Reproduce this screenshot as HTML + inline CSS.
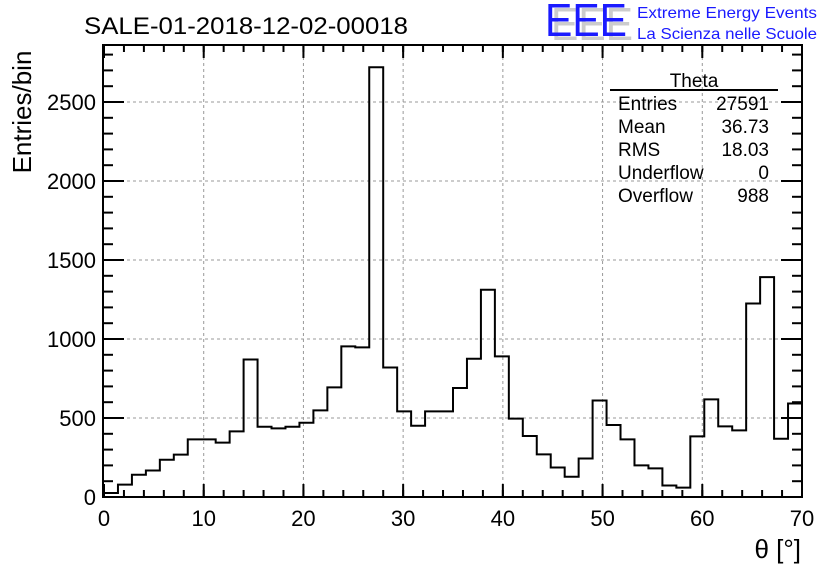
<!DOCTYPE html>
<html><head><meta charset="utf-8"><style>
body{margin:0;background:#fff;}
svg{display:block;font-family:"Liberation Sans",sans-serif;}
</style></head><body>
<svg id="chart" width="836" height="572" viewBox="0 0 836 572">
<text x="84" y="34" font-size="24" textLength="324" lengthAdjust="spacingAndGlyphs">SALE-01-2018-12-02-00018</text>
<g>
<text x="551" y="40" font-size="46" fill="#ccc" textLength="82" lengthAdjust="spacingAndGlyphs">EEE</text>
<text x="545" y="36" font-size="46" fill="#1a1aff" textLength="82" lengthAdjust="spacingAndGlyphs">EEE</text>
<text x="637" y="18" font-size="16" fill="#1a1aff" textLength="180" lengthAdjust="spacingAndGlyphs">Extreme Energy Events</text>
<text x="637" y="39" font-size="16" fill="#1a1aff" textLength="180" lengthAdjust="spacingAndGlyphs">La Scienza nelle Scuole</text>
</g>
<g id="grid"></g>
<g id="axes"></g>
<path id="hist" fill="none" stroke="#000" stroke-width="2"/>
<rect x="103" y="45" width="699" height="452" fill="none" stroke="#000" stroke-width="2"/>
<g font-size="19">
<text x="694" y="87" text-anchor="middle">Theta</text>
<line x1="610" y1="90" x2="778" y2="90" stroke="#000" stroke-width="2"/>
<text x="618" y="110">Entries</text><text x="769" y="110" text-anchor="end">27591</text>
<text x="618" y="133">Mean</text><text x="769" y="133" text-anchor="end">36.73</text>
<text x="618" y="156">RMS</text><text x="769" y="156" text-anchor="end">18.03</text>
<text x="618" y="179">Underflow</text><text x="769" y="179" text-anchor="end">0</text>
<text x="618" y="202">Overflow</text><text x="769" y="202" text-anchor="end">988</text>
</g>
<text x="801" y="558" font-size="26" text-anchor="end">θ [°]</text>
<text transform="translate(31,112) rotate(-90)" font-size="26" text-anchor="middle">Entries/bin</text>
</svg>
<script>
const binCounts=[25,78,141,168,236,268,365,365,344,415,870,445,434,445,470,548,694,953,947,2720,820,542,451,542,542,690,875,1312,890,496,386,270,187,128,244,611,456,365,200,181,73,59,384,618,447,422,1225,1392,369,592];
const xTicks=[0,10,20,30,40,50,60,70];
const yTicks=[0,500,1000,1500,2000,2500];
const binWidth=1.4;
const X=v=>104+v*(698/70);
const Y=v=>497-v*0.158;
const ns="http://www.w3.org/2000/svg";
const svg=document.getElementById('chart');
const grid=document.getElementById('grid'),axes=document.getElementById('axes');
function mk(tag,attrs,parent){const e=document.createElementNS(ns,tag);for(const k in attrs)e.setAttribute(k,attrs[k]);parent.appendChild(e);return e;}
xTicks.forEach(t=>{
 if(t>0&&t<70){const g=mk('line',{x1:X(t),x2:X(t),y1:45,y2:497,stroke:'#999','stroke-dasharray':'3,3'},grid);
 
 }
 const l=mk('text',{x:X(t),y:526,'font-size':22,'text-anchor':'middle'},axes);l.textContent=t;
 
 
 mk('line',{x1:X(t),x2:X(t),y1:497,y2:484,stroke:'#000','stroke-width':2},axes);
 mk('line',{x1:X(t),x2:X(t),y1:45,y2:58,stroke:'#000','stroke-width':2},axes);
});
for(let v=0;v<=70;v+=2){mk('line',{x1:X(v),x2:X(v),y1:497,y2:490,stroke:'#000','stroke-width':2},axes);mk('line',{x1:X(v),x2:X(v),y1:45,y2:52,stroke:'#000','stroke-width':2},axes);}
yTicks.forEach(t=>{
 if(t>0){const g=mk('line',{x1:103,x2:802,y1:Y(t),y2:Y(t),stroke:'#999','stroke-dasharray':'3,3'},grid);
 
 }
 const l=mk('text',{x:96,y:Y(t)+8,'font-size':22,'text-anchor':'end'},axes);l.textContent=t;
 
 
 mk('line',{x1:103,x2:124,y1:Y(t),y2:Y(t),stroke:'#000','stroke-width':2},axes);
 mk('line',{x1:802,x2:781,y1:Y(t),y2:Y(t),stroke:'#000','stroke-width':2},axes);
});
for(let v=0;v<=2800;v+=100){if(Y(v)<46)break;mk('line',{x1:103,x2:113,y1:Y(v),y2:Y(v),stroke:'#000','stroke-width':2},axes);mk('line',{x1:802,x2:792,y1:Y(v),y2:Y(v),stroke:'#000','stroke-width':2},axes);}
let d='M'+X(0)+','+Y(binCounts[0]);
binCounts.forEach((c,i)=>{d+=' L'+X(i*binWidth)+','+Y(c)+' L'+X((i+1)*binWidth)+','+Y(c);});
document.getElementById('hist').setAttribute('d',d);
</script>
</body></html>
